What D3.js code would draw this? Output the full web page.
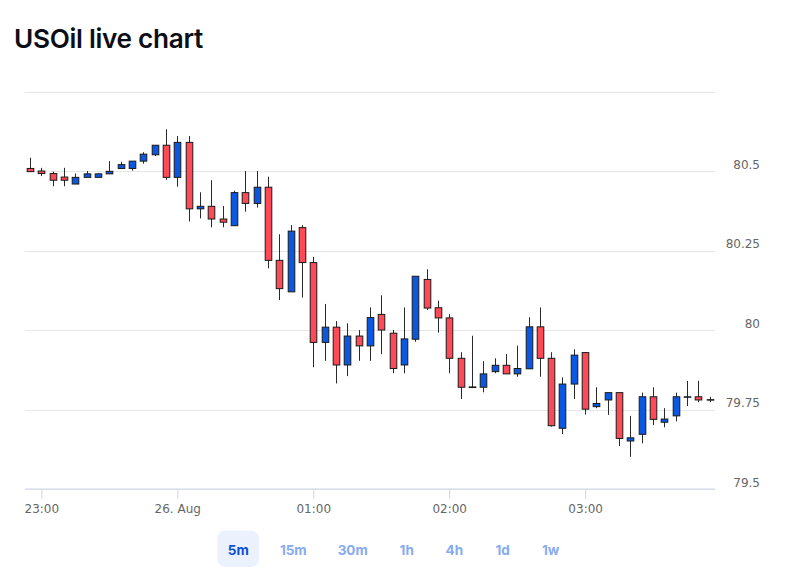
<!DOCTYPE html>
<html>
<head>
<meta charset="utf-8">
<script src="https://cdn.jsdelivr.net/npm/d3@7"></script>
<style>
    body { margin: 0; background: #fff; }
    svg { display: block; }
</style>
</head>
<body>
<svg></svg>
<script>
// 5 minute candles, 25 Aug 22:55 -> 26 Aug 03:55
const times = [
    "22:55", "23:00", "23:05", "23:10", "23:15", "23:20", "23:25", "23:30", "23:35", "23:40", "23:45", "23:50", "23:55",
    "00:00", "00:05", "00:10", "00:15", "00:20", "00:25", "00:30", "00:35", "00:40", "00:45", "00:50", "00:55",
    "01:00", "01:05", "01:10", "01:15", "01:20", "01:25", "01:30", "01:35", "01:40", "01:45", "01:50", "01:55",
    "02:00", "02:05", "02:10", "02:15", "02:20", "02:25", "02:30", "02:35", "02:40", "02:45", "02:50", "02:55",
    "03:00", "03:05", "03:10", "03:15", "03:20", "03:25", "03:30", "03:35", "03:40", "03:45", "03:50", "03:55"
];
const opens = [
    80.508, 80.500, 80.492, 80.481, 80.459, 80.480, 80.480, 80.491, 80.508, 80.508, 80.531, 80.551, 80.581,
    80.480, 80.590, 80.381, 80.389, 80.349, 80.328, 80.432, 80.398, 80.449, 80.219, 80.120, 80.322,
    80.212, 79.961, 80.009, 79.890, 79.981, 79.950, 80.049, 79.990, 79.890, 79.971, 80.159, 80.070,
    80.038, 79.911, 79.821, 79.820, 79.869, 79.889, 79.862, 79.878, 80.010, 79.911, 79.691, 79.830,
    79.929, 79.759, 79.780, 79.803, 79.651, 79.672, 79.790, 79.710, 79.730, 79.790, 79.790, 79.781
];
const highs = [
    80.542, 80.510, 80.498, 80.510, 80.492, 80.500, 80.493, 80.531, 80.529, 80.531, 80.559, 80.581, 80.631,
    80.610, 80.610, 80.433, 80.471, 80.390, 80.438, 80.500, 80.500, 80.482, 80.301, 80.330, 80.330,
    80.230, 80.082, 80.028, 80.021, 80.000, 80.071, 80.109, 80.000, 80.071, 80.169, 80.191, 80.092,
    80.050, 79.930, 79.982, 79.902, 79.911, 79.924, 79.951, 80.040, 80.071, 79.930, 79.851, 79.939,
    79.929, 79.820, 79.803, 79.803, 79.730, 79.803, 79.820, 79.754, 79.803, 79.840, 79.840, 79.790
];
const lows = [
    80.497, 80.484, 80.452, 80.452, 80.459, 80.480, 80.480, 80.491, 80.508, 80.501, 80.523, 80.547, 80.472,
    80.451, 80.341, 80.351, 80.323, 80.323, 80.328, 80.372, 80.385, 80.194, 80.094, 80.120, 80.102,
    79.883, 79.903, 79.832, 79.855, 79.903, 79.903, 79.924, 79.864, 79.864, 79.963, 80.063, 79.992,
    79.864, 79.783, 79.818, 79.804, 79.864, 79.862, 79.853, 79.878, 79.853, 79.696, 79.673, 79.783,
    79.734, 79.754, 79.733, 79.635, 79.601, 79.644, 79.701, 79.694, 79.713, 79.761, 79.773, 79.773
];
const closes = [
    80.498, 80.492, 80.471, 80.471, 80.480, 80.491, 80.491, 80.499, 80.520, 80.531, 80.553, 80.581, 80.480,
    80.590, 80.381, 80.389, 80.349, 80.339, 80.432, 80.398, 80.449, 80.219, 80.130, 80.311, 80.212,
    79.961, 80.009, 79.890, 79.981, 79.950, 80.039, 80.000, 79.879, 79.972, 80.169, 80.069, 80.038,
    79.911, 79.820, 79.819, 79.862, 79.889, 79.862, 79.879, 80.010, 79.911, 79.699, 79.830, 79.921,
    79.751, 79.769, 79.803, 79.659, 79.661, 79.790, 79.719, 79.720, 79.790, 79.790, 79.780, 79.781
];
const xTickTimes = ["23:00", "00:00", "01:00", "02:00", "03:00"];
const xTickLabels = ["23:00", "26. Aug", "01:00", "02:00", "03:00"];
const yTicks = [79.5, 79.75, 80, 80.25, 80.5, 80.75];
const yTickLabels = ["79.5", "79.75", "80", "80.25", "80.5", ""];
const periods = ["5m", "15m", "30m", "1h", "4h", "1d", "1w"];

const width = 795,
    height = 582,
    plotLeft = 25,
    plotRight = 715,
    plotTop = 91.5,
    plotBottom = 489;

const svg = d3.select("svg");
let xScale, yScale, candles;

// "HH:MM" -> Date, anything from 22:00 on belongs to 25 Aug
const toDate = (t) => {
    const h = +t.slice(0, 2),
        m = +t.slice(3, 5);
    return new Date(Date.UTC(2024, 7, h >= 22 ? 25 : 26, h, m));
};

const drawCanvas = () => {
    svg.attr("width", width).attr("height", height);
    svg.append("rect").attr("width", width).attr("height", height).attr("fill", "#fff");

    const title = svg.append("text")
        .attr("x", 14)
        .attr("y", 48)
        .attr("font-family", "Inter, 'Noto Sans', sans-serif")
        .attr("font-weight", 600)
        .attr("font-size", 26)
        .attr("fill", "#0b0e17")
        .attr("letter-spacing", -0.3)
        .text("USOil live chart");
    // squeeze to the width of the original heading
    const len = title.node().getComputedTextLength();
    title.attr("font-size", (26 * 189) / len);
};

const generateScales = () => {
    candles = times.map((t, i) => ({
        date: toDate(t),
        open: opens[i],
        high: highs[i],
        low: lows[i],
        close: closes[i]
    }));
    const first = candles[0].date,
        last = candles[candles.length - 1].date;

    xScale = d3.scaleTime()
        .domain([new Date(+first - 132000), new Date(+last + 138000)])
        .range([plotLeft, plotRight]);

    yScale = d3.scaleLinear()
        .domain([79.5, 80.75])
        .range([plotBottom, plotTop]);
};

const generateAxes = () => {
    const yAxis = d3.axisRight(yScale)
        .tickValues(yTicks)
        .tickSize(plotRight - plotLeft)
        .tickFormat((d, i) => yTickLabels[i]);

    const gy = svg.append("g")
        .attr("id", "y-axis")
        .attr("transform", "translate(" + plotLeft + ", 0)")
        .call(yAxis);
    gy.select(".domain").remove();
    gy.selectAll(".tick line").attr("stroke", "#e6e6e6").attr("shape-rendering", "crispEdges");
    gy.selectAll(".tick text")
        .attr("x", 735)
        .attr("dy", "-0.25em")
        .attr("text-anchor", "end")
        .attr("fill", "#666666")
        .attr("font-family", "'DejaVu Sans', sans-serif")
        .attr("font-size", 12);

    const xAxis = d3.axisBottom(xScale)
        .tickValues(xTickTimes.map(toDate))
        .tickSize(10)
        .tickPadding(5)
        .tickFormat((d, i) => xTickLabels[i]);

    const gx = svg.append("g")
        .attr("id", "x-axis")
        .attr("transform", "translate(0, " + plotBottom + ")")
        .call(xAxis);
    gx.select(".domain").attr("stroke", "#ccd6eb").attr("d", "M" + plotLeft + ",0H" + plotRight);
    gx.selectAll(".tick line").attr("stroke", "#ccd6eb");
    gx.selectAll(".tick text")
        .attr("fill", "#666666")
        .attr("font-family", "'DejaVu Sans', sans-serif")
        .attr("font-size", 12);
};

const drawCandles = () => {
    const bodyW = 6.6;
    const g = svg.append("g").attr("id", "candles");

    g.selectAll("line")
        .data(candles)
        .enter()
        .append("line")
        .attr("x1", (d) => Math.round(xScale(d.date)) + 0.5)
        .attr("x2", (d) => Math.round(xScale(d.date)) + 0.5)
        .attr("y1", (d) => yScale(d.high))
        .attr("y2", (d) => yScale(d.low))
        .attr("stroke", "#2a2a2a")
        .attr("stroke-width", 1);

    g.selectAll("rect")
        .data(candles)
        .enter()
        .append("rect")
        .attr("x", (d) => Math.round(xScale(d.date)) + 0.5 - bodyW / 2)
        .attr("y", (d) => yScale(Math.max(d.open, d.close)))
        .attr("width", bodyW)
        .attr("height", (d) => Math.max(0.5, Math.abs(yScale(d.open) - yScale(d.close))))
        .attr("fill", (d) => (d.close < d.open ? "#fd4a56" : "#0a58e2"))
        .attr("stroke", "#1a1a1a")
        .attr("stroke-width", 1);
};

const drawPeriods = () => {
    const centers = [238.3, 293.3, 352.7, 406.7, 454.3, 502.7, 550.7];
    const g = svg.append("g").attr("id", "periods");

    g.append("rect")
        .attr("x", 217.5)
        .attr("y", 530.5)
        .attr("width", 41.5)
        .attr("height", 36.5)
        .attr("rx", 8)
        .attr("fill", "#ebf2fd");

    g.selectAll("text")
        .data(periods)
        .enter()
        .append("text")
        .attr("x", (d, i) => centers[i])
        .attr("y", 549.5)
        .attr("text-anchor", "middle")
        .attr("dominant-baseline", "central")
        .attr("font-family", "Inter, 'Noto Sans', sans-serif")
        .attr("font-weight", 700)
        .attr("font-size", 13.5)
        .attr("fill", (d, i) => (i === 0 ? "#0e50d4" : "#86abee"))
        .text((d) => d);
};

drawCanvas();
generateScales();
generateAxes();
drawCandles();
drawPeriods();
</script>
</body>
</html>
